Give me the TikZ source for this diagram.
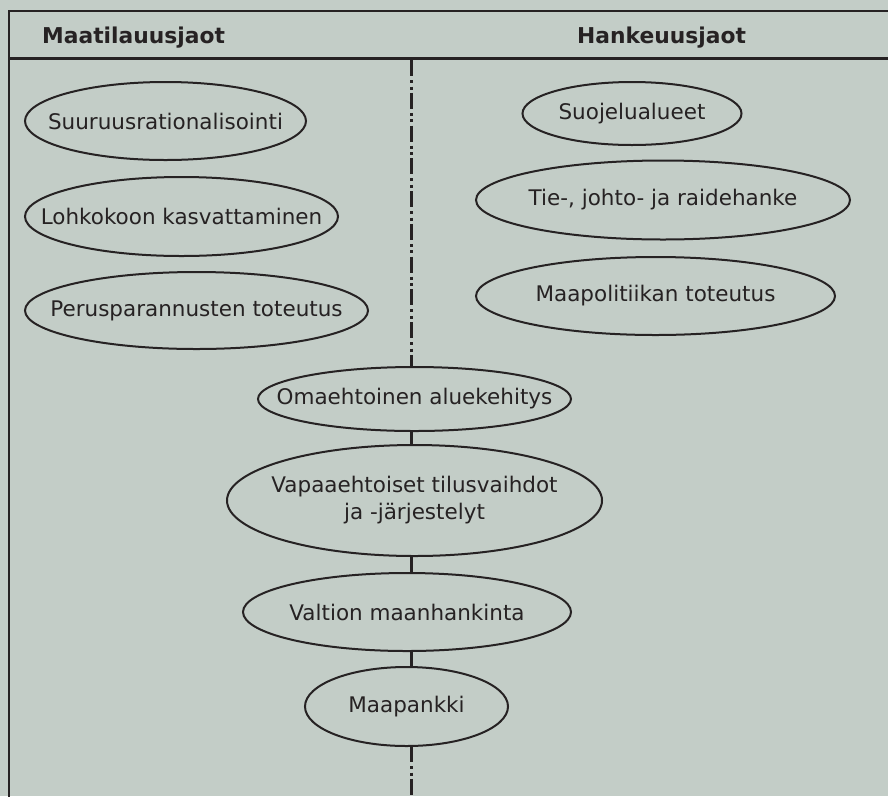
\documentclass[tikz,border=0pt]{standalone}
\usepackage{fontspec}
\setmainfont{DejaVu Sans}
\usetikzlibrary{shapes.geometric}
\definecolor{bgcol}{HTML}{C3CDC7}
\definecolor{ink}{HTML}{262223}
\tikzset{
  frameline/.style={draw=ink, line width=2.6pt, line cap=rect},
  divider/.style={draw=ink, line width=3pt, dash pattern=on 16pt off 4pt on 3pt off 3.5pt on 3pt off 3.25pt},
  link/.style={draw=ink, line width=3pt},
  ell/.style={ellipse, draw=ink, fill=bgcol, line width=2pt, inner sep=0pt},
  lab/.style={align=center, inner sep=0pt, text=ink, font=\fontsize{21.5}{27}\selectfont},
  head/.style={anchor=base west, inner sep=0pt, text=ink, font=\fontsize{21.8}{26}\selectfont\bfseries}
}
\begin{document}
\begin{tikzpicture}[x=1pt, y=-1pt]
\fill[bgcol] (0,0) rectangle (888,796);
\useasboundingbox (0,0) rectangle (888,796);

% frame
\coordinate (tl) at (9,11);
\coordinate (tr) at (889,11);
\coordinate (hl) at (9,58.5);
\coordinate (hr) at (889,58.5);
\coordinate (bl) at (9,797);
\draw[frameline] (tr) -- (tl) -- (bl);
\draw[frameline] (hl) -- (hr);

% headers
\node[head] (hleft) at (42,43.5) {Maatilauusjaot};
\node[head] (hright) at (577,43) {Hankeuusjaot};

% divider and links (drawn first, ellipses cover them)
\coordinate (divtop) at (411,60);
\coordinate (divbot) at (411,797);
\coordinate (c7) at (411,399);
\coordinate (c8) at (411,500.5);
\coordinate (c9) at (411,612);
\coordinate (c10) at (411,706.5);
\draw[divider] (divtop) -- (c7);
\draw[link] (c7) -- (c8);
\draw[link] (c8) -- (c9);
\draw[link] (c9) -- (c10);
\coordinate (c10b) at (411,746);
\draw[divider] (c10b) -- (divbot);

% left column
\node[ell, minimum width=281pt, minimum height=78pt, label={[lab]center:Suuruusrationalisointi}] (e1) at (165.5,121) {};
\node[ell, minimum width=313pt, minimum height=79pt, label={[lab]center:Lohkokoon kasvattaminen}] (e2) at (181.5,216.5) {};
\node[ell, minimum width=343pt, minimum height=77pt, label={[lab]center:Perusparannusten toteutus}] (e3) at (196.5,310.5) {};

% right column
\node[ell, minimum width=219pt, minimum height=63pt, label={[lab]center:Suojelualueet}] (e4) at (632,113.5) {};
\node[ell, minimum width=374pt, minimum height=79pt, label={[lab]center:Tie-, johto- ja raidehanke}] (e5) at (663,200) {};
\node[ell, minimum width=359pt, minimum height=78pt, label={[lab]center:Maapolitiikan toteutus}] (e6) at (655.5,296) {};

% center column
\node[ell, minimum width=313pt, minimum height=64pt, label={[lab]center:Omaehtoinen aluekehitys}] (e7) at (414.5,399) {};
\node[ell, minimum width=375pt, minimum height=111pt, label={[lab]center:Vapaaehtoiset tilusvaihdot\\ja -järjestelyt}] (e8) at (414.5,500.5) {};
\node[ell, minimum width=328pt, minimum height=78pt, label={[lab]center:Valtion maanhankinta}] (e9) at (407,612) {};
\node[ell, minimum width=203pt, minimum height=79pt, label={[lab]center:Maapankki}] (e10) at (406.5,706.5) {};
\end{tikzpicture}
\end{document}
